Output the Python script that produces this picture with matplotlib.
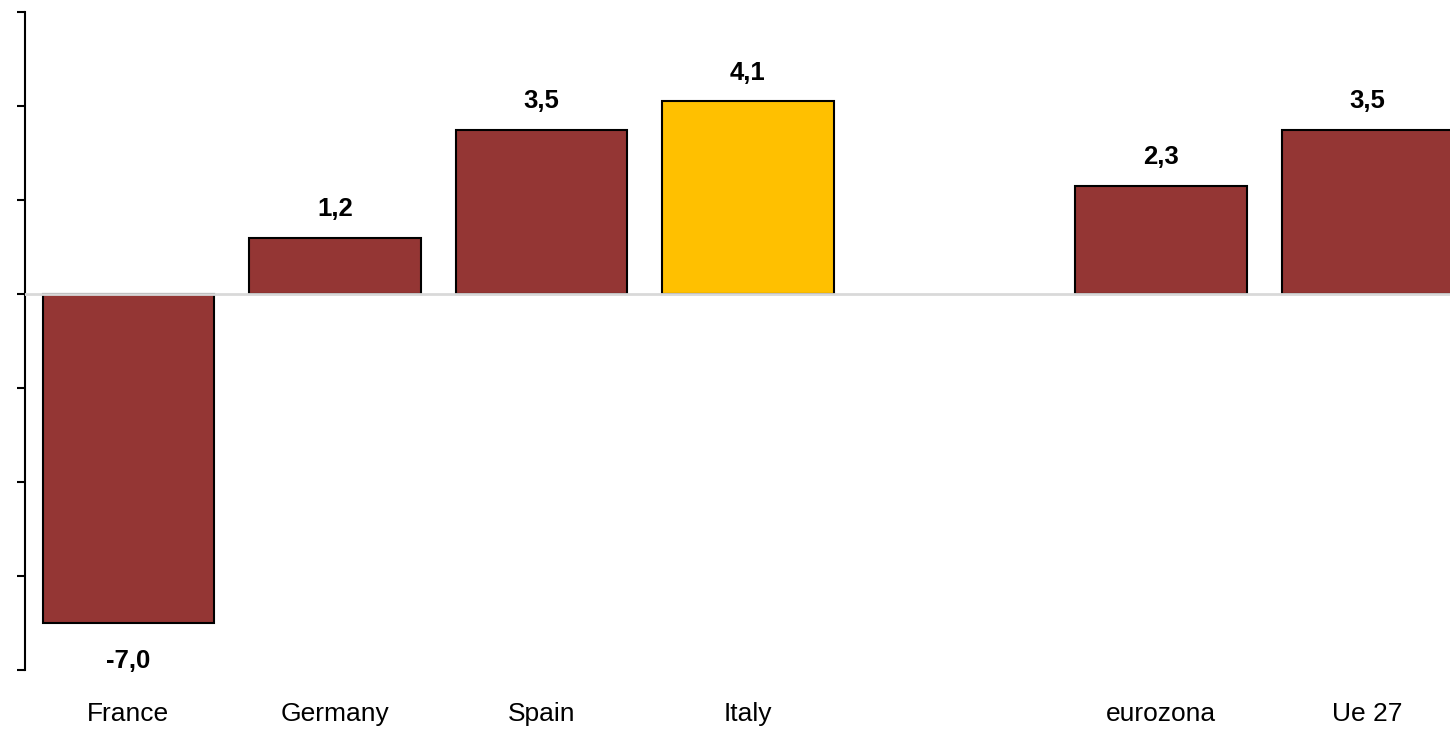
import numpy as np
import matplotlib
matplotlib.use('Agg')
import matplotlib.pyplot as plt

plt.rcParams['font.family'] = ['Liberation Sans Narrow', 'Liberation Sans', 'DejaVu Sans']

categories = ['France', 'Germany', 'Spain', 'Italy', '', 'eurozona', 'Ue 27']
values = [-7.0, 1.2, 3.5, 4.1, None, 2.3, 3.5]
labels = ['-7,0', '1,2', '3,5', '4,1', '', '2,3', '3,5']
highlight = 'Italy'

red = '#943634'
yellow = '#FFC000'

fig = plt.figure(figsize=(14.5, 7.29), dpi=100)
# axes run a bit past the right edge, like the original crop
ax = fig.add_axes([25 / 1450, 59 / 729, 1446 / 1450, 658 / 729])

x = np.arange(len(categories))
for i, (cat, v, lab) in enumerate(zip(categories, values, labels)):
    if v is None:
        continue
    col = yellow if cat == highlight else red
    ax.bar(i, v, width=0.83, color=col, edgecolor='black', linewidth=1.5, zorder=2)
    if v >= 0:
        ax.annotate(lab, (i, v), xytext=(0, 12), textcoords='offset points',
                    ha='center', va='bottom', fontsize=18.5, fontweight='bold')
    else:
        ax.annotate(lab, (i, v), xytext=(0, -19), textcoords='offset points',
                    ha='center', va='top', fontsize=18.5, fontweight='bold')

ax.axhline(0, color='#d9d9d9', linewidth=2, zorder=3)

ax.set_xlim(-0.5, len(categories) - 0.5)
ax.set_ylim(-8, 6)
ax.set_yticks(np.arange(-8, 7, 2))
ax.set_yticklabels([])
ax.tick_params(axis='y', direction='out', length=6, width=1.5)
ax.set_xticks(x)
ax.set_xticklabels(categories, fontsize=19)
ax.tick_params(axis='x', length=0, pad=23)

for s in ['top', 'right', 'bottom']:
    ax.spines[s].set_visible(False)
ax.spines['left'].set_linewidth(1.5)

fig.savefig('out.png', dpi=100)
